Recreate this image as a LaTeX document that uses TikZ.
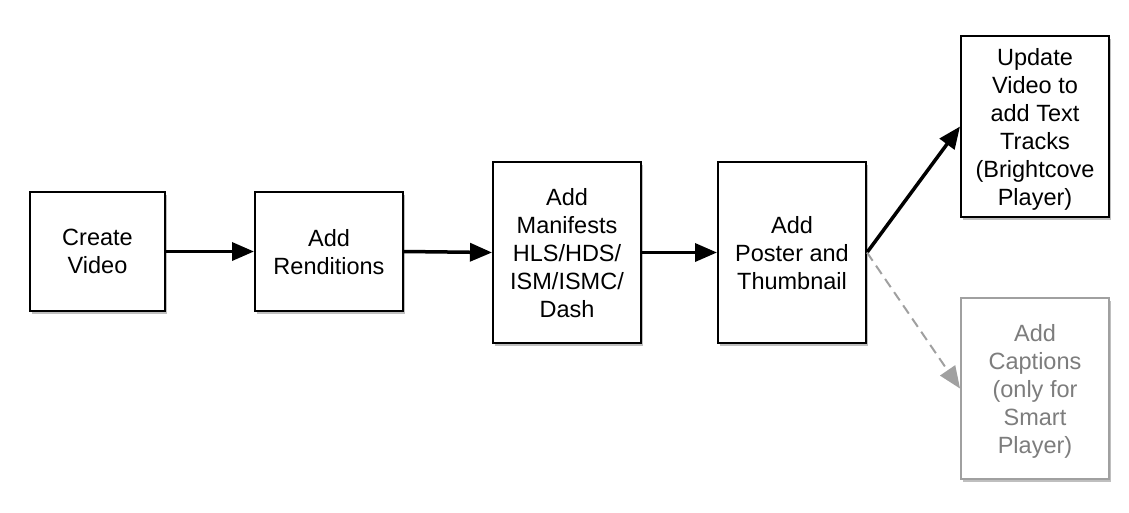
\documentclass[tikz,border=0pt]{standalone}
\usepackage{fontspec}
\setmainfont{Liberation Sans}
\usetikzlibrary{arrows.meta,shadows}
\definecolor{ghost}{RGB}{125,125,125}
\definecolor{ghostline}{RGB}{160,160,160}
\tikzset{
  stepbox/.style={draw=black, line width=2pt, fill=white, align=center,
    font=\fontsize{23.5}{28}\selectfont, inner sep=0pt, text depth=0pt,
    drop shadow={shadow xshift=2pt, shadow yshift=-2.5pt, opacity=0.25, fill=black}},
  ghostbox/.style={stepbox, draw=ghostline, text=ghost},
  flow/.style={line width=3.5pt, -{Triangle[length=22pt,width=18pt]}},
  ghostflow/.style={line width=2pt, draw=ghostline, dash pattern=on 10pt off 6pt,
    -{Triangle[length=22pt,width=18pt,fill=ghostline]}}
}
\begin{document}
\begin{tikzpicture}[x=1pt,y=-1pt]
\useasboundingbox (0,0) rectangle (1129,512);
\node[stepbox, minimum width=135pt, minimum height=119pt] (create) at (97.5,251.5) {Create\\Video};
\node[stepbox, minimum width=148pt, minimum height=119pt] (rend) at (329,251.5) {Add\\Renditions};
\node[stepbox, minimum width=148pt, minimum height=181pt] (man) at (567,252.5) {Add\\Manifests\\HLS/HDS/\\ISM/ISMC/\\Dash};
\node[stepbox, minimum width=148pt, minimum height=181pt] (poster) at (792,252.5) {Add\\Poster and\\Thumbnail};
\node[stepbox, minimum width=148pt, minimum height=181pt] (upd) at (1035,126.5) {Update\\Video to\\add Text\\Tracks\\(Brightcove\\Player)};
\node[ghostbox, minimum width=148pt, minimum height=181pt] (cap) at (1035,388.5) {Add\\Captions\\(only for\\Smart\\Player)};
\draw[flow] (create.east) -- (rend.west);
\draw[flow] (rend.east) -- (man.west);
\draw[flow] (man.east) -- (poster.west);
\draw[flow] (poster.east) -- (upd.west);
\draw[ghostflow] (poster.east) -- (cap.west);
\end{tikzpicture}
\end{document}
